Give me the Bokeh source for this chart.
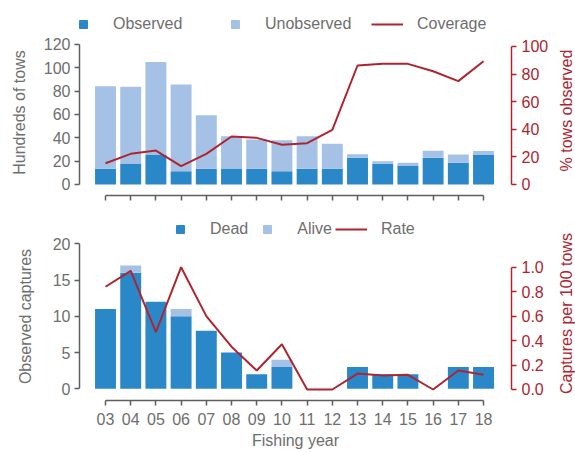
import math
from bokeh.plotting import figure
from bokeh.models import (Range1d, LinearAxis, FixedTicker, Legend, LegendItem,
                          NumeralTickFormatter, ColumnDataSource)
from bokeh.core.properties import value
from bokeh.layouts import column, row
from bokeh.embed import file_html
from bokeh.resources import INLINE

# ---- data ----
years = ["03", "04", "05", "06", "07", "08", "09", "10",
         "11", "12", "13", "14", "15", "16", "17", "18"]
observed = [13.4, 18, 25.7, 11.4, 13.4, 13.7, 13.4, 11.4,
            13.4, 13.5, 23, 17.7, 16.3, 23, 18.6, 25.2]
unobserved = [70.9, 65.7, 79.3, 74.3, 46, 27.7, 25.2, 26.6,
              28, 21.4, 3, 2.3, 2.3, 6, 7.1, 3.4]
coverage = [15.4, 22.2, 24.6, 13.3, 22.2, 34.8, 33.8, 28.8,
            29.9, 39.6, 86.2, 87.4, 87.4, 82, 74.9, 89.3]
dead = [11, 16, 12, 10, 8, 5, 2, 3, 0, 0, 3, 2, 2, 0, 3, 3]
alive = [0, 1, 0, 1, 0, 0, 0, 1, 0, 0, 0, 0, 0, 0, 0, 0]
rate = [0.84, 0.97, 0.47, 1.0, 0.60, 0.35, 0.155, 0.37,
        0, 0, 0.13, 0.115, 0.12, 0, 0.155, 0.12]

DARK = "#2A88C8"
LIGHT = "#A6C1E6"
RED = "#AE2530"
GREY = "#6E6E6E"
AXIS = "#5E5E5E"
FONT = "Liberation Sans"

xs = [int(y) for y in years]
src = ColumnDataSource(dict(x=xs, observed=observed, unobserved=unobserved,
                            coverage=coverage, dead=dead, alive=alive, rate=rate))

H = 452           # total drawing height
H1 = 213          # top panel height
LW, RW = 36, 19   # side strips holding the rotated axis titles
W = 575 - LW - RW
XR = (1.968, 19.11)
NAN = float("nan")


def style_axis(ax, color_line, color_text):
    ax.axis_line_color = color_line
    ax.axis_line_width = 1.5
    ax.major_tick_line_color = color_line
    ax.major_tick_line_width = 1.5
    ax.major_tick_out = 5
    ax.major_tick_in = 0
    ax.minor_tick_line_color = None
    ax.major_label_text_color = color_text
    ax.major_label_text_font = FONT
    ax.major_label_text_font_size = "16px"
    ax.major_label_standoff = 4
    ax.axis_label_text_color = color_text
    ax.axis_label_text_font = FONT
    ax.axis_label_text_font_size = "16px"
    ax.axis_label_text_font_style = "normal"


def base_fig(height, yr, border_top, border_bottom):
    p = figure(width=W, height=height, output_backend="svg", toolbar_location=None,
               x_range=Range1d(*XR), y_range=Range1d(*yr),
               min_border_left=43, min_border_right=45,
               min_border_top=border_top, min_border_bottom=border_bottom)
    p.outline_line_color = None
    p.xgrid.visible = False
    p.ygrid.visible = False
    p.background_fill_color = "white"
    return p


def strip(width, xs_, ys_, texts, colors):
    s = figure(width=width, height=H, output_backend="svg", toolbar_location=None,
               x_range=Range1d(0, width), y_range=Range1d(H, 0),
               x_axis_location=None, y_axis_location=None,
               min_border=0, min_border_left=0, min_border_right=0,
               min_border_top=0, min_border_bottom=0)
    s.outline_line_color = None
    s.xgrid.visible = False
    s.ygrid.visible = False
    s.text(x=xs_, y=ys_, text=texts, text_color=colors, angle=math.pi / 2,
           text_align="center", text_baseline="middle",
           text_font=value(FONT), text_font_size="16px")
    return s


# ---- top figure ----
p1 = base_fig(H1, (-9.43, 147.4), 12, 18)
p1.extra_y_ranges = {"pct": Range1d(-7.97, 124.6)}
p1.vbar_stack(["observed", "unobserved"], x="x", width=0.83, source=src,
              color=[DARK, LIGHT], line_color=None)
cov_r = p1.line("x", "coverage", source=src, y_range_name="pct",
                line_color=RED, line_width=2)

p1.yaxis.bounds = (0, 120)
p1.yaxis.ticker = FixedTicker(ticks=[0, 20, 40, 60, 80, 100, 120])
style_axis(p1.yaxis[0], AXIS, GREY)

p1.xaxis.bounds = (3, 18)
p1.xaxis.ticker = FixedTicker(ticks=xs)
style_axis(p1.xaxis[0], AXIS, GREY)
p1.xaxis.major_label_overrides = {x: "" for x in xs}
p1.xaxis.major_label_text_font_size = "0px"
p1.xaxis.major_label_standoff = 0

ax_r1 = LinearAxis(y_range_name="pct", bounds=(0, 100),
                   ticker=FixedTicker(ticks=[0, 20, 40, 60, 80, 100]))
style_axis(ax_r1, RED, RED)
ax_r1.major_label_standoff = 5
p1.add_layout(ax_r1, "right")

obs_leg = p1.scatter(x=[NAN], y=[NAN], marker="square", color=DARK)
unobs_leg = p1.scatter(x=[NAN], y=[NAN], marker="square", color=LIGHT)
leg1 = Legend(items=[LegendItem(label="Observed", renderers=[obs_leg]),
                     LegendItem(label="Unobserved", renderers=[unobs_leg]),
                     LegendItem(label="Coverage", renderers=[cov_r])],
              orientation="horizontal", location=(-12, 161),
              glyph_width=32, glyph_height=20, label_height=20,
              label_standoff=14, label_width=88, spacing=18,
              padding=0, margin=0, border_line_color=None,
              background_fill_alpha=0,
              label_text_font=FONT, label_text_font_size="16px",
              label_text_color=GREY)
p1.add_layout(leg1)

# ---- bottom figure ----
p2 = base_fig(H - H1, (-1.614, 24.18), 0, 52)
p2.extra_y_ranges = {"rate": Range1d(-0.09, 1.439)}
p2.vbar_stack(["dead", "alive"], x="x", width=0.83, source=src,
              color=[DARK, LIGHT], line_color=None)
rate_r = p2.line("x", "rate", source=src, y_range_name="rate",
                 line_color=RED, line_width=2)

p2.yaxis.bounds = (0, 20)
p2.yaxis.ticker = FixedTicker(ticks=[0, 5, 10, 15, 20])
style_axis(p2.yaxis[0], AXIS, GREY)

p2.xaxis.bounds = (3, 18)
p2.xaxis.ticker = FixedTicker(ticks=xs)
p2.xaxis.major_label_overrides = {x: y for x, y in zip(xs, years)}
style_axis(p2.xaxis[0], AXIS, GREY)
p2.xaxis.major_label_standoff = 7
p2.xaxis.axis_label = "Fishing year"
p2.xaxis.axis_label_standoff = 4

ax_r2 = LinearAxis(y_range_name="rate", bounds=(0, 1),
                   ticker=FixedTicker(ticks=[0, 0.2, 0.4, 0.6, 0.8, 1.0]),
                   formatter=NumeralTickFormatter(format="0.0"))
style_axis(ax_r2, RED, RED)
ax_r2.major_label_standoff = 5
p2.add_layout(ax_r2, "right")

dead_leg = p2.scatter(x=[NAN], y=[NAN], marker="square", color=DARK)
alive_leg = p2.scatter(x=[NAN], y=[NAN], marker="square", color=LIGHT)
leg2 = Legend(items=[LegendItem(label="Dead", renderers=[dead_leg]),
                     LegendItem(label="Alive", renderers=[alive_leg]),
                     LegendItem(label="Rate", renderers=[rate_r])],
              orientation="horizontal", location=(85, 161),
              glyph_width=32, glyph_height=20, label_height=20,
              label_standoff=14, spacing=3,
              padding=0, margin=0, border_line_color=None,
              background_fill_alpha=0,
              label_text_font=FONT, label_text_font_size="16px",
              label_text_color=GREY)
p2.add_layout(leg2)

# ---- rotated axis titles ----
left = strip(LW, [19, 25], [112, 316], ["Hundreds of tows", "Observed captures"],
             [GREY, GREY])
right = strip(RW, [10, 10], [110, 313], ["% tows observed", "Captures per 100 tows"],
              [RED, RED])

layout = row(left, column(p1, p2, spacing=0), right, spacing=0)
open("out.html", "w").write(file_html(layout, INLINE))
